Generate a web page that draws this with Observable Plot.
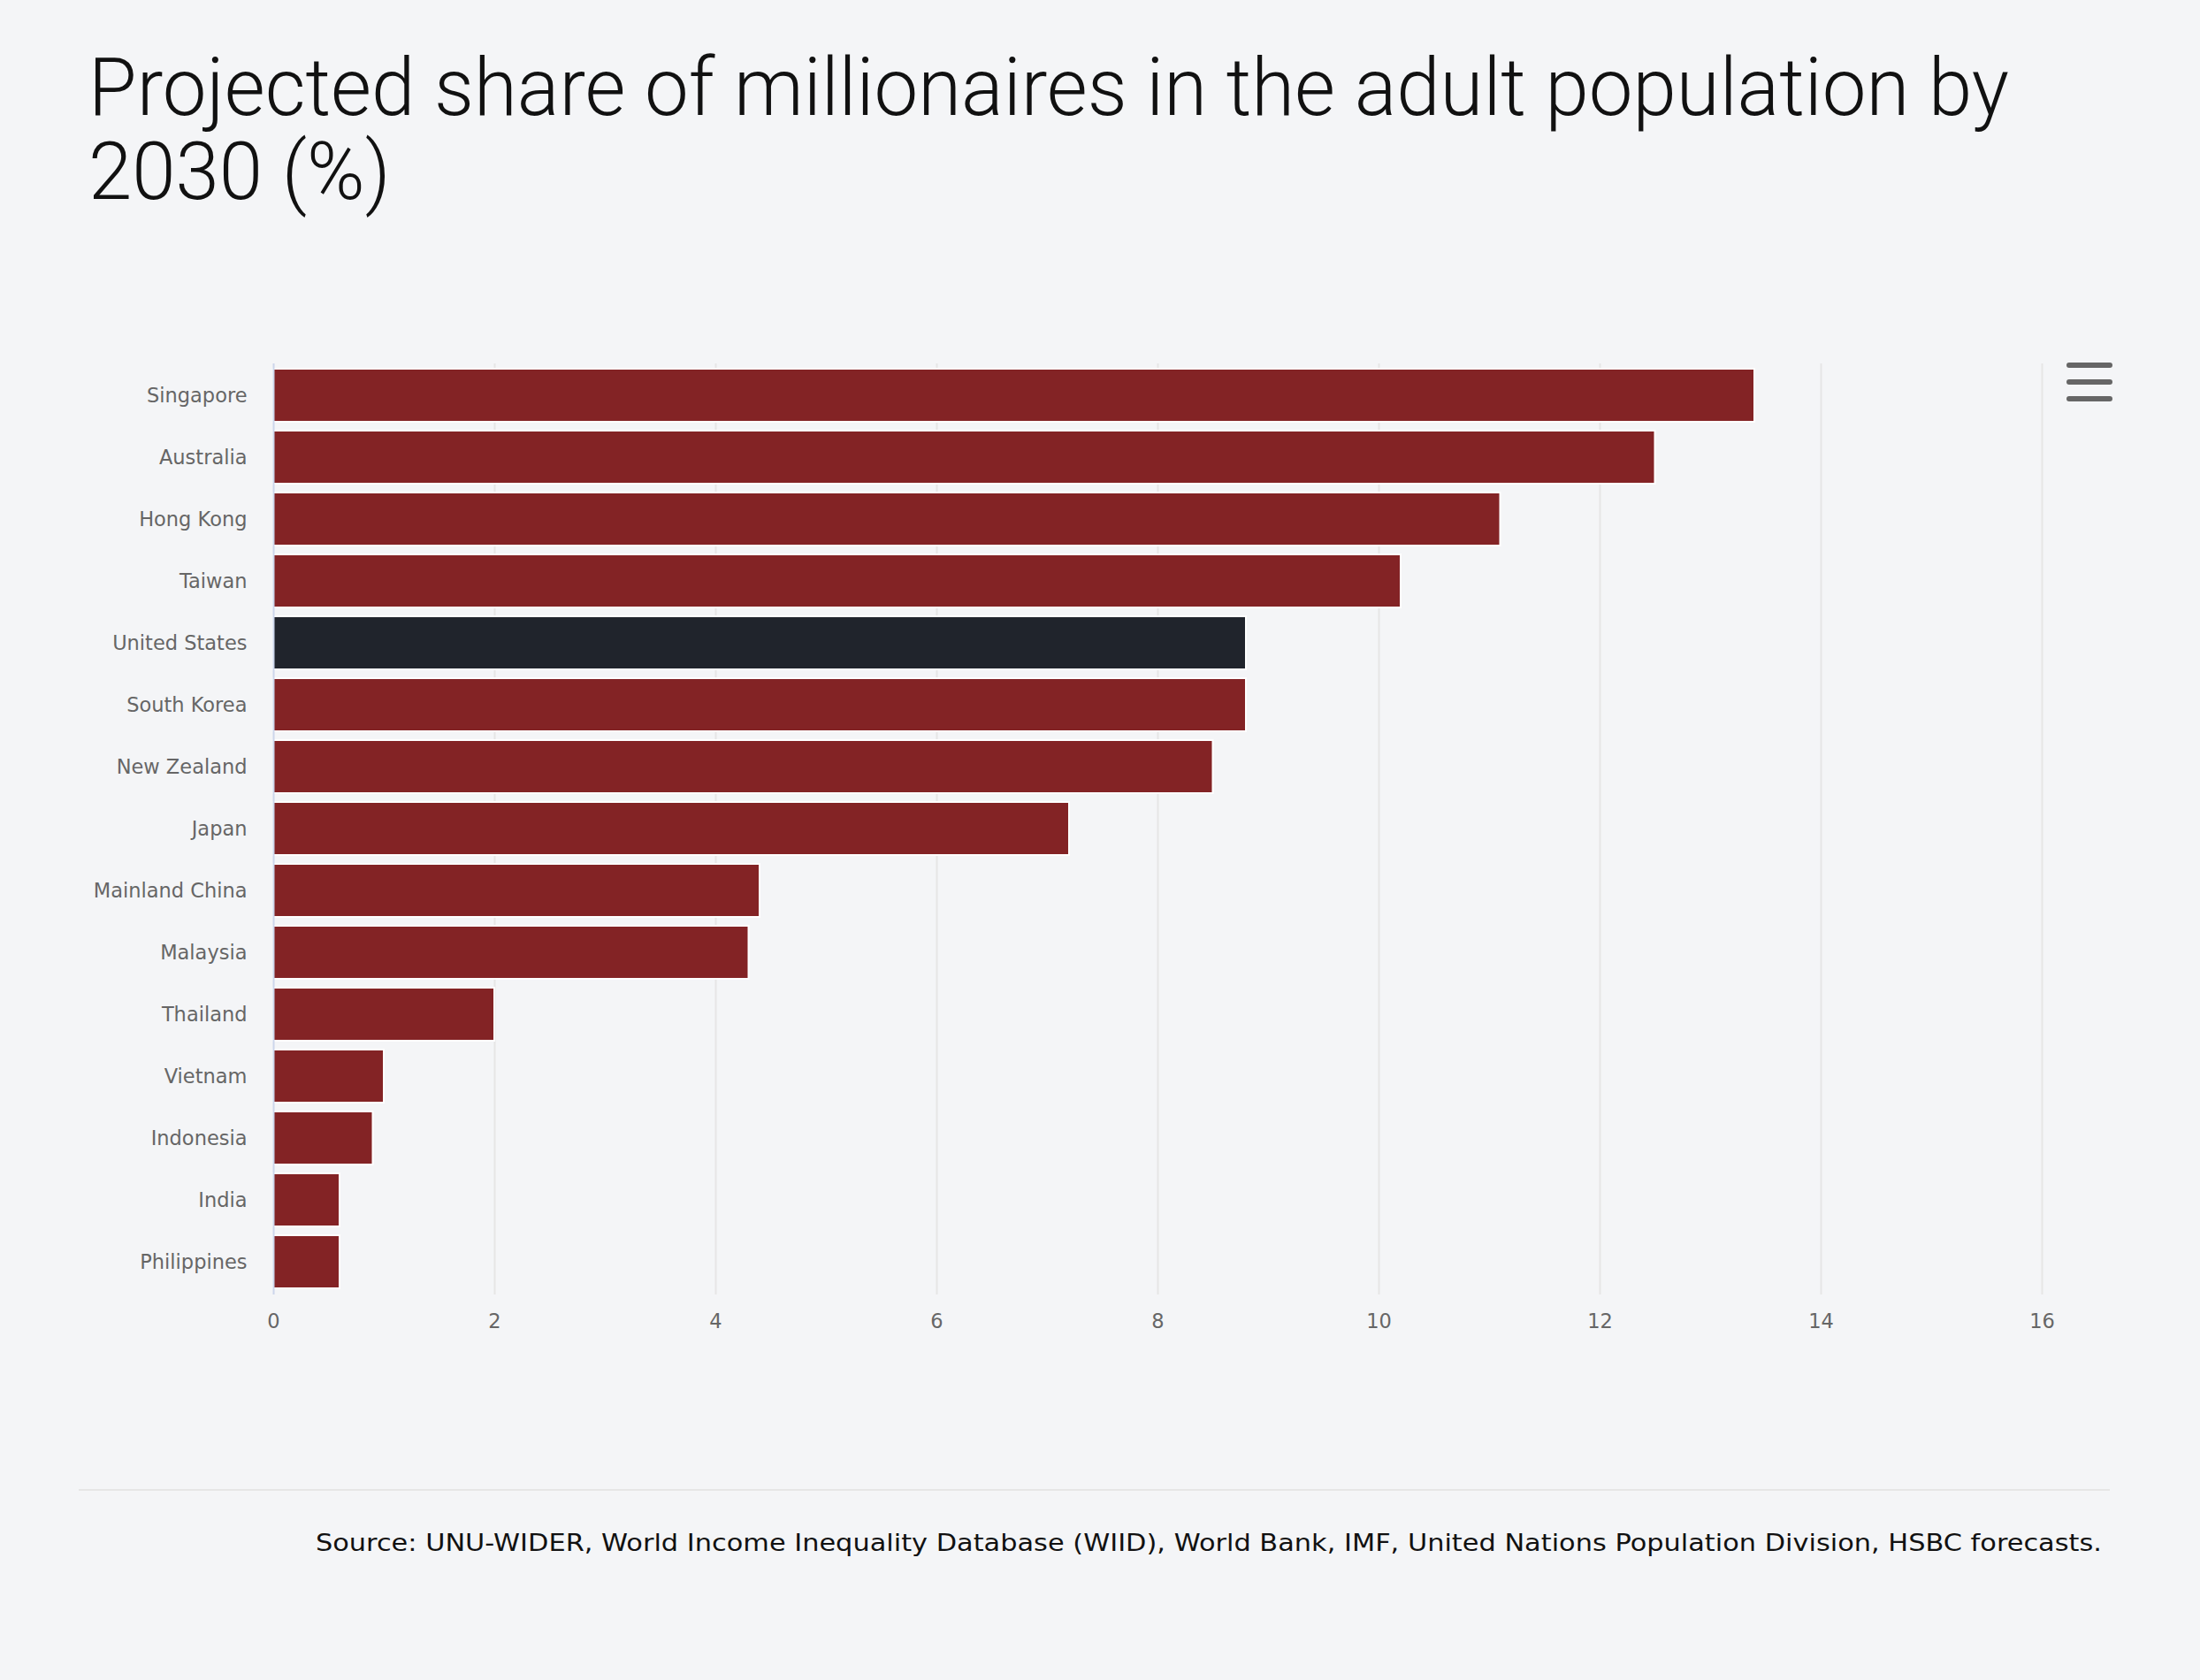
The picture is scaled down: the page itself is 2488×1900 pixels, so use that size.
<!DOCTYPE html>
<html>
<head>
<meta charset="utf-8">
<script src="https://cdn.jsdelivr.net/npm/d3@7"></script>
<script src="https://cdn.jsdelivr.net/npm/@observablehq/plot@0.6"></script>
<style>
  html, body { margin: 0; padding: 0; background: #f4f5f7; }
  #page { position: relative; width: 2488px; height: 1900px; background: #f4f5f7; overflow: hidden; }
  #title { position: absolute; left: 100px; top: 52px; font-family: Roboto, "Liberation Sans Narrow", sans-serif; font-weight: 300; font-size: 90px; line-height: 95px; color: #111; white-space: nowrap; transform-origin: left top; }
  #chart { position: absolute; left: 0; top: 381px; }
  #menu { position: absolute; left: 2332px; top: 404px; }
  #rule { position: absolute; left: 89px; top: 1684px; width: 2297px; height: 2px; background: #e6e6e6; }
  #source { position: absolute; right: 111px; top: 1730px; font-family: "DejaVu Sans", sans-serif; font-size: 26px; color: #111; white-space: nowrap; transform-origin: right top; }
</style>
</head>
<body>
<div id="page">
  <div id="title"><span id="t1">Projected share of millionaires in the adult population by</span><br><span id="t2">2030 (%)</span></div>
  <div id="chart"></div>
  <svg id="menu" width="64" height="56"><g stroke="#666" stroke-width="6" stroke-linecap="round"><line x1="8" y1="9" x2="54" y2="9"/><line x1="8" y1="28" x2="54" y2="28"/><line x1="8" y1="47" x2="54" y2="47"/></g></svg>
  <div id="rule"></div>
  <div id="source">Source: UNU-WIDER, World Income Inequality Database (WIID), World Bank, IMF, United Nations Population Division, HSBC forecasts.</div>
</div>
<script>
const countries = ["Singapore", "Australia", "Hong Kong", "Taiwan", "United States", "South Korea", "New Zealand", "Japan", "Mainland China", "Malaysia", "Thailand", "Vietnam", "Indonesia", "India", "Philippines"];
const shares = [13.4, 12.5, 11.1, 10.2, 8.8, 8.8, 8.5, 7.2, 4.4, 4.3, 2.0, 1.0, 0.9, 0.6, 0.6];
const xTicks = [0, 2, 4, 6, 8, 10, 12, 14, 16];
const highlight = "United States";
const barColor = "#832325";
const highlightColor = "#20242c";

const data = countries.map((c, i) => ({country: c, share: shares[i]}));

const chart = Plot.plot({
  width: 2488,
  height: 1150,
  marginLeft: 309,
  marginRight: 179,
  marginTop: 30,
  marginBottom: 67,
  style: {fontFamily: "DejaVu Sans, sans-serif", fontSize: "22.5px", color: "#666", background: "transparent", overflow: "visible"},
  x: {domain: [0, 16], ticks: xTicks},
  y: {domain: countries, paddingInner: 0.14, paddingOuter: 0.09},
  color: {type: "identity"},
  marks: [
    Plot.gridX(xTicks.filter(t => t > 0), {stroke: "#e6e6e6", strokeOpacity: 1, strokeWidth: 2}),
    Plot.barX(data, {x: "share", y: "country", fill: d => d.country === highlight ? highlightColor : barColor, stroke: "#ffffff", strokeWidth: 2}),
    Plot.ruleX([0], {stroke: "#ccd6eb", strokeWidth: 2}),
    Plot.axisX({ticks: xTicks, tickSize: 0, tickPadding: 22, label: null}),
    Plot.axisY({tickSize: 0, tickPadding: 30, label: null})
  ]
});
document.getElementById("chart").appendChild(chart);

// fit title and source widths to the reference layout
const t1 = document.getElementById("t1");
const title = document.getElementById("title");
const w1 = t1.getBoundingClientRect().width;
title.style.transform = `scaleX(${2172 / w1})`;
const src = document.getElementById("source");
const ws = src.getBoundingClientRect().width;
src.style.transform = `scaleX(${2020 / ws})`;
</script>
</body>
</html>
